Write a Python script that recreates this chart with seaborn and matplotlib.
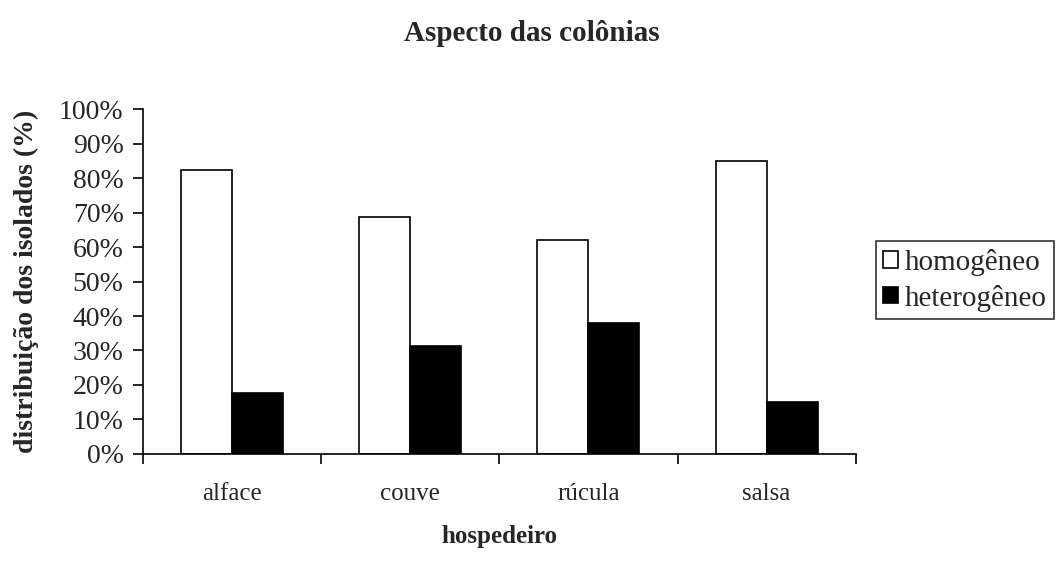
import pandas as pd
import matplotlib.pyplot as plt
import seaborn as sns
from matplotlib.ticker import FixedLocator, PercentFormatter

# values (percent of isolates)
hospedeiros = ['alface', 'couve', 'rúcula', 'salsa']
homogeneo = [82.4, 68.8, 62.0, 85.0]
heterogeneo = [17.6, 31.2, 38.0, 15.0]
ytick_vals = list(range(0, 101, 10))

df = pd.DataFrame({
    'hospedeiro': hospedeiros * 2,
    'valor': homogeneo + heterogeneo,
    'aspecto': ['homogêneo'] * 4 + ['heterogêneo'] * 4,
})

sns.set_style('white')
plt.rcParams['font.family'] = ['Liberation Serif', 'DejaVu Serif']

fig = plt.figure(figsize=(10.63, 5.65), dpi=100)
ax = fig.add_axes([0.1345, 0.1965, 0.6705, 0.6105])

sns.barplot(data=df, x='hospedeiro', y='valor', hue='aspecto',
            palette={'homogêneo': 'white', 'heterogêneo': 'black'},
            edgecolor='black', linewidth=1.2, width=0.573, ax=ax)

ax.set_xlim(-0.5, len(hospedeiros) - 0.5)
ax.set_ylim(0, 100)
ax.set_yticks(ytick_vals)
ax.yaxis.set_major_formatter(PercentFormatter(decimals=0))

# category boundary ticks, labels in the middle
ax.xaxis.set_major_locator(FixedLocator([i - 0.5 for i in range(len(hospedeiros) + 1)]))
ax.xaxis.set_major_formatter(plt.NullFormatter())
ax.xaxis.set_minor_locator(FixedLocator(range(len(hospedeiros))))
ax.set_xticklabels(hospedeiros, minor=True)
ax.tick_params(axis='x', which='major', direction='out', length=7, width=1.2, color='black', bottom=True)
ax.tick_params(axis='x', which='minor', length=0, pad=21, labelsize=18)
ax.tick_params(axis='y', direction='out', length=7, width=1.2, color='black', left=True, labelsize=20, pad=7)

for s in ['top', 'right']:
    ax.spines[s].set_visible(False)
for s in ['left', 'bottom']:
    ax.spines[s].set_color('black')
    ax.spines[s].set_linewidth(1.2)

ax.set_xlabel('hospedeiro', fontsize=18, fontweight='bold', labelpad=14)
ax.set_ylabel('distribuição dos isolados (%)', fontsize=20, fontweight='bold', labelpad=14)
fig.suptitle('Aspecto das colônias', fontsize=21, fontweight='bold', y=0.965)

leg = ax.legend(loc='center left', bbox_to_anchor=(1.028, 0.504), fontsize=21,
                frameon=True, fancybox=False, edgecolor='black',
                handlelength=0.5, handleheight=0.5, handletextpad=0.25,
                borderpad=0.25, labelspacing=0.3, borderaxespad=0)
leg.get_frame().set_linewidth(1.2)

fig.savefig('out.png', dpi=100)
